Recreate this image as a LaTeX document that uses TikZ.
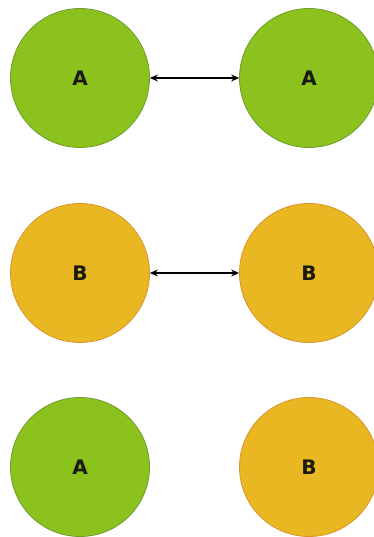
\documentclass[tikz,border=0pt]{standalone}
\usepackage{fontspec}
\setmainfont{DejaVu Sans}
\usetikzlibrary{arrows.meta}
\definecolor{gfill}{HTML}{8CC21E}
\definecolor{gline}{HTML}{6F9A2C}
\definecolor{ofill}{HTML}{E9B722}
\definecolor{oline}{HTML}{D8942C}
\definecolor{txt}{HTML}{1A1A10}
\tikzset{
  lbl/.style={font=\bfseries\fontsize{20}{22}\selectfont, text=txt},
  gcirc/.style={circle, fill=gfill, draw=gline, line width=0.8pt, minimum size=139pt, inner sep=0pt, lbl},
  ocirc/.style={circle, fill=ofill, draw=oline, line width=0.8pt, minimum size=139pt, inner sep=0pt, lbl},
  link/.style={draw=black, line width=1.1pt, {Stealth[length=8pt,width=7pt]}-{Stealth[length=8pt,width=7pt]}}
}
\begin{document}
\begin{tikzpicture}[x=1pt,y=-1pt]
\useasboundingbox (0,0) rectangle (374,537);
\clip (0,0) rectangle (374,537);
\node[gcirc] (a1) at (80,78) {A};
\node[gcirc] (a2) at (309,78) {A};
\node[ocirc] (b1) at (80,273) {B};
\node[ocirc] (b2) at (309,273) {B};
\node[gcirc] (a3) at (80,467) {A};
\node[ocirc] (b3) at (309,467) {B};
\draw[link] (a1) -- (a2);
\draw[link] (b1) -- (b2);
\end{tikzpicture}
\end{document}
